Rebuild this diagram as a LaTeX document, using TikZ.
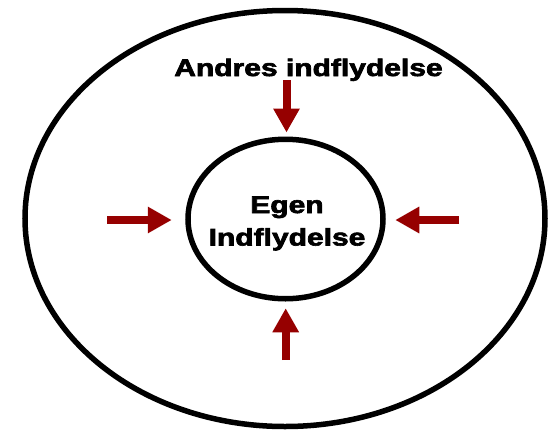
\documentclass[tikz,border=0pt]{standalone}
\usepackage{fontspec}
\setmainfont{Liberation Sans}[BoldFeatures={FakeBold=2.5}]
\usepackage{tikz}
\usetikzlibrary{shapes,arrows.meta,positioning,calc}
\usepackage{xcolor}
\definecolor{pilrod}{RGB}{150,0,0}

\begin{document}
\begin{tikzpicture}[x=1pt, y=-1pt]
    \tikzstyle{ring} = [ellipse, draw, line width=5.5pt, inner sep=0pt]
    \tikzstyle{tekst} = [font=\fontsize{24}{32.5}\selectfont\bfseries, xscale=1.25, align=center, inner sep=0pt]
    \tikzstyle{pil} = [line width=8pt, draw=pilrod, -{Triangle[length=24pt, width=25pt]}]

    \useasboundingbox (0,0) rectangle (555,429);

    % Cirkler
    \node[ring, minimum width=520pt, minimum height=416pt] (andre) at (285,218.5) {};
    \node[ring, minimum width=195pt, minimum height=159.5pt] (egen) at (285.5,219) {};

    % Tekster
    \node[tekst, anchor=base] (andretekst) at (308.5,76) {Andres indflydelse};
    \node[tekst] (egentekst) at (287,223.5) {Egen\\Indflydelse};

    % Pile
    \coordinate (ptop) at (286.5,80);
    \coordinate (pvenstre) at (107,220);
    \coordinate (phoejre) at (459,220);
    \coordinate (pbund) at (285.7,360);
    \draw[pil, shorten >=4pt] (ptop) -- (ptop |- egen.north);
    \draw[pil, shorten >=13.5pt] (pvenstre) -- (pvenstre -| egen.west);
    \draw[pil, shorten >=9.5pt] (phoejre) -- (phoejre -| egen.east);
    \draw[pil, shorten >=6.75pt] (pbund) -- (pbund |- egen.south);
\end{tikzpicture}
\end{document}
